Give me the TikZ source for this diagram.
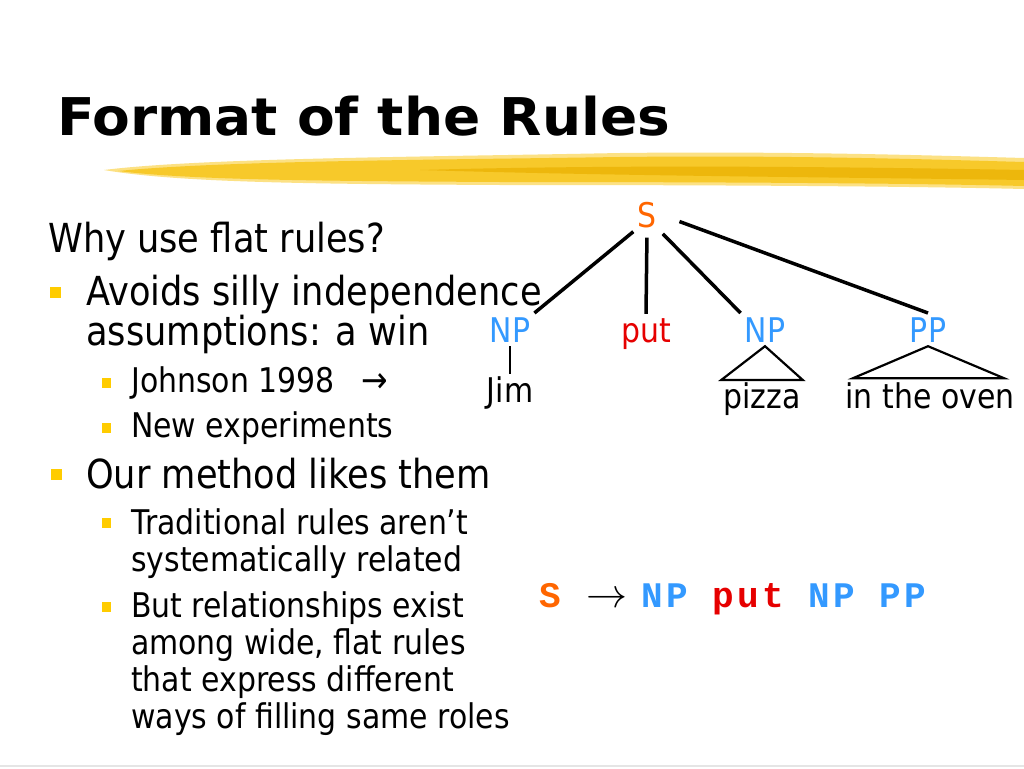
\documentclass[tikz,border=0pt]{standalone}
\usepackage{fontspec}
\setmainfont[FakeStretch=0.88]{DejaVu Sans}
\newfontfamily\titlefont[FakeStretch=1.057]{DejaVu Sans}
\newfontfamily\rulefont[LetterSpace=9]{Liberation Mono}
\usepackage{amsmath}

\definecolor{catorange}{HTML}{FF6600}
\definecolor{catblue}{HTML}{3399FF}
\definecolor{wordred}{HTML}{E60000}
\definecolor{bulletgold}{HTML}{FFCC00}
\definecolor{brushmid}{HTML}{F7C92A}
\definecolor{brushlight}{HTML}{FCE184}
\definecolor{brushdark}{HTML}{EDB70C}

\tikzset{
    lvlone/.style={anchor=base west, inner sep=0pt, font=\fontsize{40}{44}\selectfont},
    lvltwo/.style={anchor=base west, inner sep=0pt, font=\fontsize{34}{37}\selectfont},
    bulone/.style={fill=bulletgold, inner sep=0pt, minimum size=11pt},
    bultwo/.style={fill=bulletgold, inner sep=0pt, minimum size=9.5pt},
    cat/.style={anchor=base, inner sep=4pt, font=\fontsize{34}{37}\selectfont},
    word/.style={anchor=base, inner sep=2pt, font=\fontsize{34}{37}\selectfont},
    branch/.style={line width=3.5pt},
    roof/.style={line width=2.2pt, line join=miter},
    rulepart/.style={anchor=base west, inner sep=0pt, font=\fontsize{36}{40}\rulefont\bfseries}
}

\begin{document}
\begin{tikzpicture}[x=1pt, y=-1pt]

    \useasboundingbox (0,0) rectangle (1024,768);
    \fill[white] (0,0) rectangle (1024,768);

    % title and brush stroke
    \node (title) [anchor=base west, inner sep=0pt, font=\fontsize{52}{56}\titlefont\bfseries] at (57,135) {Format of the Rules};
    \fill[brushlight] (104,170) .. controls (200,158) and (420,157) .. (620,153) .. controls (800,151) and (950,156) .. (1024,158) -- (1024,189) .. controls (900,186) and (700,185) .. (500,185) .. controls (320,184) and (180,183) .. cycle;
    \fill[brushmid] (118,171) .. controls (220,161) and (420,160) .. (620,157) .. controls (800,155) and (950,160) .. (1024,162) -- (1024,186) .. controls (900,183) and (700,182) .. (500,182) .. controls (320,181) and (190,180) .. cycle;
    \fill[brushdark] (420,170) .. controls (600,165) and (800,166) .. (1024,170) -- (1024,180) .. controls (820,177) and (620,176) .. cycle;
    \draw[black!10, line width=1.5pt] (0,766) -- (1024,766);

    % left text
    \node (why) [lvlone] at (48,252) {Why use flat rules?};
    \node (b1) [bulone] at (55.5,292) {};
    \node (avoid) [lvlone] at (86,305) {Avoids silly independence};
    \node (avoidb) [lvlone] at (86,345) {assumptions: a win};
    \node (b11) [bultwo] at (106.5,383) {};
    \node (john) [lvltwo] at (131,392) {Johnson 1998};
    \node (johnarr) [lvltwo, font=\fontsize{36}{37}\selectfont] at (361,392) {→};
    \node (b12) [bultwo] at (106.5,428) {};
    \node (newexp) [lvltwo] at (131,437) {New experiments};
    \node (b2) [bulone] at (56,474) {};
    \node (ours) [lvlone] at (86,488) {Our method likes them};
    \node (b21) [bultwo] at (106.5,523) {};
    \node (trad) [lvltwo] at (131,534) {Traditional rules aren’t};
    \node (tradb) [lvltwo] at (131,571) {systematically related};
    \node (b22) [bultwo] at (106.5,607) {};
    \node (rel) [lvltwo] at (131,617) {But relationships exist};
    \node (relb) [lvltwo] at (131,654) {among wide, flat rules};
    \node (relc) [lvltwo] at (131,691) {that express different};
    \node (reld) [lvltwo] at (131,728) {ways of filling same roles};

    % tree
    \node (s) [cat, text=catorange] at (647,227) {S};
    \node (np1) [cat, text=catblue] at (510,342) {NP};
    \node (put) [cat, text=wordred] at (646,342) {put};
    \node (np2) [cat, text=catblue] at (765,342) {NP};
    \node (pp) [cat, text=catblue] at (928,342) {PP};
    \node (jim) [word] at (510,402) {Jim};
    \node (pizza) [word] at (762,408) {pizza};
    \node (oven) [word] at (930,408) {in the oven};

    \draw[branch] (s.south west) -- (np1.north east);
    \draw[branch, shorten <=6pt] (s.south) -- (put.north);
    \draw[branch, shorten <=3pt] (s.south east) -- (np2.north west);
    \draw[branch, shorten <=20pt] (s.east) -- (pp.north);
    \draw[line width=2.5pt] (np1.south) -- (jim.north);
    \draw[roof] (np2.south) -- (pizza.north west) -- (pizza.north east) -- cycle;
    \draw[roof] (pp.south) -- ++(-75,32) -- ++(151,0) -- cycle;

    % the rule
    \node (lhs) [rulepart, text=catorange] at (539,607) {S};
    \node (arr) [anchor=base west, inner sep=0pt] at (586,607) {\scalebox{4.1}{$\rightarrow$}};
    \node (rhs) [rulepart] at (641,607) {\color{catblue}NP \color{wordred}put \color{catblue}NP PP};

\end{tikzpicture}
\end{document}
